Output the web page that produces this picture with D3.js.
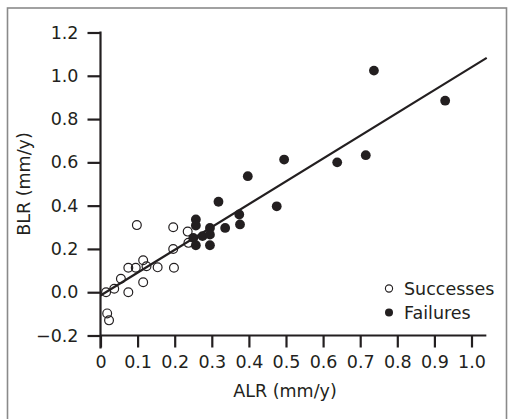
<!DOCTYPE html>
<html>
<head>
<meta charset="utf-8">
<script src="https://cdn.jsdelivr.net/npm/d3@7"></script>
<style>
  html, body { margin: 0; padding: 0; background: #fff; }
  svg { display: block; }
  text { font-family: "DejaVu Sans", sans-serif; fill: #231f20; }
</style>
</head>
<body>
<script>
// ---- data ----
const successALR = [0.015, 0.018, 0.023, 0.037, 0.055, 0.075, 0.075, 0.095, 0.098, 0.115, 0.115, 0.124, 0.154, 0.196, 0.196, 0.198, 0.235, 0.237];
const successBLR = [0.000, -0.098, -0.130, 0.016, 0.062, 0.000, 0.113, 0.113, 0.310, 0.148, 0.046, 0.120, 0.115, 0.300, 0.200, 0.113, 0.280, 0.228];
const failureALR = [0.257, 0.257, 0.250, 0.257, 0.275, 0.295, 0.295, 0.295, 0.318, 0.336, 0.374, 0.376, 0.397, 0.475, 0.495, 0.638, 0.715, 0.737, 0.929];
const failureBLR = [0.336, 0.308, 0.251, 0.217, 0.259, 0.297, 0.266, 0.217, 0.418, 0.297, 0.359, 0.313, 0.536, 0.397, 0.613, 0.600, 0.633, 1.024, 0.885];
const fitALR = [0.0, 1.041];
const fitBLR = [-0.015, 1.083];
const xTicks = [0, 0.1, 0.2, 0.3, 0.4, 0.5, 0.6, 0.7, 0.8, 0.9, 1.0];
const xTickLabels = ["0", "0.1", "0.2", "0.3", "0.4", "0.5", "0.6", "0.7", "0.8", "0.9", "1.0"];
const yTicks = [-0.2, 0.0, 0.2, 0.4, 0.6, 0.8, 1.0, 1.2];
const yTickLabels = ["\u22120.2", "0.0", "0.2", "0.4", "0.6", "0.8", "1.0", "1.2"];
const legendLabels = ["Successes", "Failures"];
const xTitle = "ALR (mm/y)";
const yTitle = "BLR (mm/y)";

// ---- drawing ----
const W = 510, H = 419;
const ink = "#231f20";
const svg = d3.select("body").append("svg").attr("width", W).attr("height", H);

svg.append("rect")
  .attr("x", 7.5).attr("y", 8).attr("width", 499).attr("height", 430)
  .attr("fill", "none").attr("stroke", "#8a8a8a").attr("stroke-width", 1.6);

const x = d3.scaleLinear().domain([0, 1.0]).range([100.5, 471.5]);
const y = d3.scaleLinear().domain([-0.2, 1.2]).range([335.5, 32.5]);

const fs = 17.5;

// x axis
const xAxis = d3.axisBottom(x).tickValues(xTicks)
  .tickFormat((d, i) => xTickLabels[i]).tickSize(12).tickSizeOuter(0).tickPadding(8);
const gx = svg.append("g").attr("transform", `translate(0,${y(-0.2)})`).call(xAxis);
gx.select(".domain").attr("d", `M${x(0)},0H${x(1.04)}`);
gx.selectAll("path,line").attr("stroke", ink).attr("stroke-width", 2.2);
gx.selectAll("text").attr("font-size", fs).attr("fill", ink)
  .attr("font-family", "DejaVu Sans, sans-serif");

// y axis
const yAxis = d3.axisLeft(y).tickValues(yTicks)
  .tickFormat((d, i) => yTickLabels[i]).tickSize(13).tickSizeOuter(0).tickPadding(9);
const gy = svg.append("g").attr("transform", `translate(${x(0)},0)`).call(yAxis);
gy.select(".domain").attr("d", `M0,${y(1.2) - 1}V${y(-0.2) + 13}`);
gy.selectAll("path,line").attr("stroke", ink).attr("stroke-width", 2.2);
gy.selectAll("text").attr("font-size", fs).attr("fill", ink)
  .attr("font-family", "DejaVu Sans, sans-serif");

// titles
svg.append("text").attr("x", 285).attr("y", 397).attr("text-anchor", "middle")
  .attr("font-size", fs).text(xTitle);
svg.append("text").attr("transform", `translate(30,${(y(1.2) + y(-0.2)) / 2}) rotate(-90)`)
  .attr("text-anchor", "middle").attr("font-size", fs).text(yTitle);

// regression line
svg.append("path")
  .datum(fitALR.map((d, i) => [d, fitBLR[i]]))
  .attr("d", d3.line().x(d => x(d[0])).y(d => y(d[1])))
  .attr("fill", "none").attr("stroke", ink).attr("stroke-width", 2.2);

// successes (open)
svg.append("g").selectAll("circle")
  .data(successALR.map((d, i) => [d, successBLR[i]]))
  .join("circle")
  .attr("cx", d => x(d[0])).attr("cy", d => y(d[1])).attr("r", 4.4)
  .attr("fill", "none").attr("stroke", ink).attr("stroke-width", 1.2);

// failures (filled)
svg.append("g").selectAll("circle")
  .data(failureALR.map((d, i) => [d, failureBLR[i]]))
  .join("circle")
  .attr("cx", d => x(d[0])).attr("cy", d => y(d[1])).attr("r", 4.9)
  .attr("fill", ink);

// legend
const lg = svg.append("g");
legendLabels.forEach((lab, i) => {
  const cy = 288.5 + i * 24;
  if (i === 0) {
    lg.append("circle").attr("cx", 389).attr("cy", cy).attr("r", 3.6)
      .attr("fill", "none").attr("stroke", ink).attr("stroke-width", 1.1);
  } else {
    lg.append("circle").attr("cx", 389).attr("cy", cy).attr("r", 4).attr("fill", ink);
  }
  lg.append("text").attr("x", 404).attr("y", cy + 6.5).attr("font-size", fs).text(lab);
});
</script>
</body>
</html>
